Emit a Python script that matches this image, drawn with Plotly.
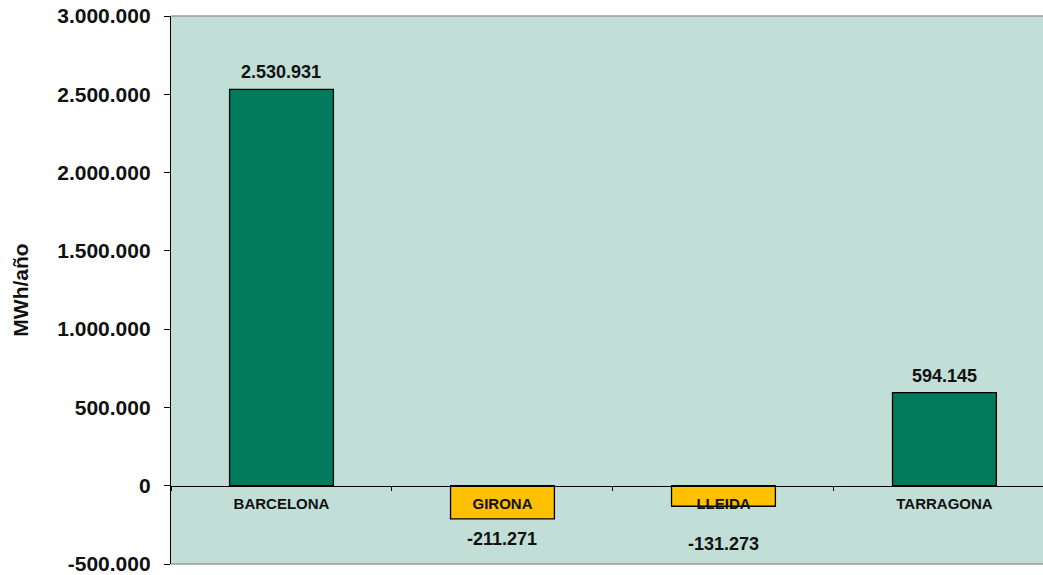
import plotly.graph_objects as go

categories = ["BARCELONA", "GIRONA", "LLEIDA", "TARRAGONA"]
values = [2530931, -211271, -131273, 594145]
y_tick_values = [-500000, 0, 500000, 1000000, 1500000, 2000000, 2500000, 3000000]
y_title = "MWh/año"

GREEN = "#007A5A"
YELLOW = "#FFC000"
BG = "#C2DFD7"
FONT = "Arial, Liberation Sans, sans-serif"

colors = [GREEN if v >= 0 else YELLOW for v in values]
label_shift = [5, -8, -26, 5]

def fmt(v):
    return f"{v:,}".replace(",", ".")

fig = go.Figure()
fig.add_trace(go.Bar(
    x=categories, y=values, width=0.47,
    marker=dict(color=colors, line=dict(color="black", width=1.3)),
    hoverinfo="skip",
))

ymin, ymax = y_tick_values[0], y_tick_values[-1]
zero_pos = (0 - ymin) / (ymax - ymin)

annotations = []
for c, v, s in zip(categories, values, label_shift):
    annotations.append(dict(
        x=c, y=v, xref="x", yref="y", text=fmt(v), showarrow=False,
        yanchor="bottom" if v >= 0 else "top", yshift=s,
        font=dict(family=FONT, size=18, color="#111111", weight="bold"),
    ))

fig.update_layout(
    width=1043, height=575,
    margin=dict(l=171, r=0, t=16, b=11),
    paper_bgcolor="white", plot_bgcolor=BG,
    separators=",.",
    showlegend=False,
    annotations=annotations,
    shapes=[
        dict(type="line", xref="paper", yref="paper", x0=0, x1=1, y0=1, y1=1,
             line=dict(color="#9A9A9A", width=1.5), layer="below"),
        dict(type="line", xref="paper", yref="paper", x0=0, x1=1, y0=0, y1=0,
             line=dict(color="#9A9A9A", width=1.5), layer="below"),
    ],
    xaxis=dict(
        type="category", range=[-0.5, 3.446],
        anchor="free", position=zero_pos,
        showline=True, linecolor="black", linewidth=1,
        ticks="outside", tickson="boundaries", ticklen=4, tickcolor="black",
        showgrid=False, zeroline=False,
        tickfont=dict(family=FONT, size=15, color="#111111", weight="bold"),
        ticklabelstandoff=4,
    ),
    yaxis=dict(
        range=[ymin, ymax], tickmode="array", tickvals=y_tick_values,
        ticktext=[fmt(v) for v in y_tick_values],
        showline=True, linecolor="black", linewidth=1.3,
        ticks="outside", ticklen=6, tickcolor="black",
        showgrid=False, zeroline=False,
        ticklabeloverflow="allow",
        tickfont=dict(family=FONT, size=21, color="#111111", weight="bold"),
        ticklabelstandoff=9,
        title=dict(text=y_title, standoff=22,
                   font=dict(family=FONT, size=21, color="#111111", weight="bold")),
    ),
)

fig.write_html("out.html",
               config={"displayModeBar": False},
               post_script="document.body.style.margin='0';document.body.style.overflow='hidden';")
